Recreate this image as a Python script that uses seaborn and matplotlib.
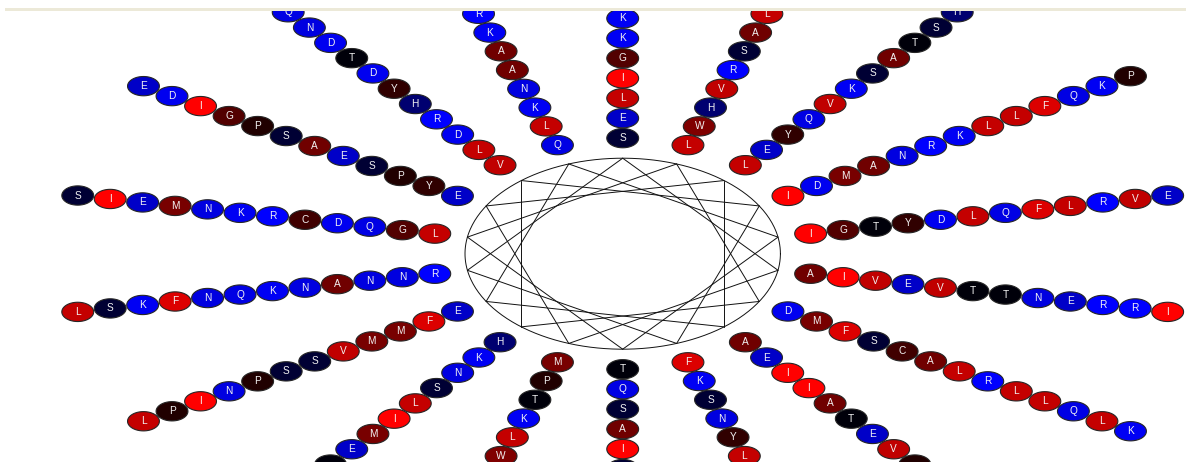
import numpy as np
import pandas as pd
import matplotlib
matplotlib.use("Agg")
import matplotlib.pyplot as plt
from matplotlib.path import Path
from matplotlib.patches import Rectangle
import seaborn as sns

# Residues on each of the 18 wheel spokes, listed from the wheel outwards.
# Spoke k points at angle 90 - 20*k degrees (clockwise from the top).
spoke_residues = [
    "SELIGKK",
    "LWHVRSAL",
    "LEYQVKSATSH",
    "IDMANRKLLFQKP",
    "IGTYDLQFLRVE",
    "AIVEVTTNERRI",
    "DMFSCALRLLQLK",
    "AEIIATEVP",
    "FKSNYL",
    "TQSAIS",
    "MPTKLW",
    "HKNSLIMET",
    "EFMMVSSPNIPL",
    "RNNANKQNFKSL",
    "LGQDCRKNMEIS",
    "EYPSEASPGIDE",
    "VLDRHYDTDNQ",
    "QLKNAAKR",
]

# Hydrophobicity colour scale: bright red (hydrophobic) -> black -> blue (charged)
aa_colors = {
    "I": "#ff0000", "F": "#dc0000", "L": "#c40000", "V": "#c00000",
    "W": "#800000", "M": "#780000", "A": "#700000", "G": "#520000",
    "C": "#400000", "Y": "#300000", "P": "#200000", "T": "#00000a",
    "S": "#000034", "H": "#000070", "E": "#0000c8", "Q": "#0000e4",
    "N": "#0000e0", "D": "#0000f0", "K": "#0000f4", "R": "#0000ff",
}

n_spokes = 18
step_deg = 100          # rotation between consecutive residues
ring_start = 1.21       # first residue radius (wheel radius = 1)
ring_step = 0.209       # radial spacing of residues along a spoke
dot_radius = 0.101

# Figure geometry (pixels)
W, H, dpi = 1186, 462, 100
top_px = 11
cx_px, cy_px = 622.7, 253.7
rx_px, ry_px = 157.7, 95.5

rows = []
for k, seq in enumerate(spoke_residues):
    theta = np.deg2rad(90 - 20 * k)
    for ring, aa in enumerate(seq):
        r = ring_start + ring * ring_step
        rows.append({"spoke": k, "ring": ring, "aa": aa,
                     "x": r * np.cos(theta), "y": r * np.sin(theta)})
df = pd.DataFrame(rows)

sns.set_theme(style="white")
plt.rcParams["font.family"] = ["Liberation Sans", "DejaVu Sans"]

fig = plt.figure(figsize=(W / dpi, H / dpi), dpi=dpi)
fig.patch.set_facecolor("white")
ax = fig.add_axes([0, 0, 1, (H - top_px) / H])
ax.set_xlim(-cx_px / rx_px, (W - cx_px) / rx_px)
ax.set_ylim(-(H - cy_px) / ry_px, (cy_px - top_px) / ry_px)
ax.axis("off")

# Wheel: outer ellipse and the 100-degree chords between residue positions
t = np.linspace(0, 2 * np.pi, 400)
ax.plot(np.cos(t), np.sin(t), color="#111111", lw=0.7, zorder=1)
for k in range(n_spokes):
    a0 = np.deg2rad(90 - 20 * k)
    a1 = a0 - np.deg2rad(step_deg)
    ax.plot([np.cos(a0), np.cos(a1)], [np.sin(a0), np.sin(a1)],
            color="#111111", lw=0.7, zorder=1)

# Elliptical marker that follows the stretched data aspect
aspect = ry_px / rx_px
tt = np.linspace(0, 2 * np.pi, 60)
verts = np.column_stack([np.cos(tt), aspect * np.sin(tt)])
ellipse_marker = Path(verts, closed=True)

fig.canvas.draw()
p0 = ax.transData.transform((0, 0))
p1 = ax.transData.transform((1, 0))
width_pt = 2 * dot_radius * (p1[0] - p0[0]) * 72 / dpi

sns.scatterplot(data=df, x="x", y="y", hue="aa", palette=aa_colors,
                marker=ellipse_marker, s=width_pt ** 2,
                edgecolor="#262626", linewidth=0.8, legend=False,
                ax=ax, zorder=3)
ax.set_xlabel("")
ax.set_ylabel("")

# Letters only for residues whose centre lies inside the drawing area
x_lo, x_hi = ax.get_xlim()
y_lo, y_hi = ax.get_ylim()
inside = df[(df["x"] > x_lo) & (df["x"] < x_hi) &
            (df["y"] > y_lo) & (df["y"] < y_hi)]
for _, row in inside.iterrows():
    ax.text(row["x"], row["y"], row["aa"], ha="center", va="center",
            color="#f2f2f2", fontsize=7.3, zorder=4, clip_on=True)

# Thin band at the very top of the canvas
fig.add_artist(Rectangle((5 / W, (H - top_px) / H), (W - 5) / W, 3 / H,
                         transform=fig.transFigure, color="#ece9d8", lw=0))

fig.savefig("out.png", dpi=dpi, facecolor="white")
